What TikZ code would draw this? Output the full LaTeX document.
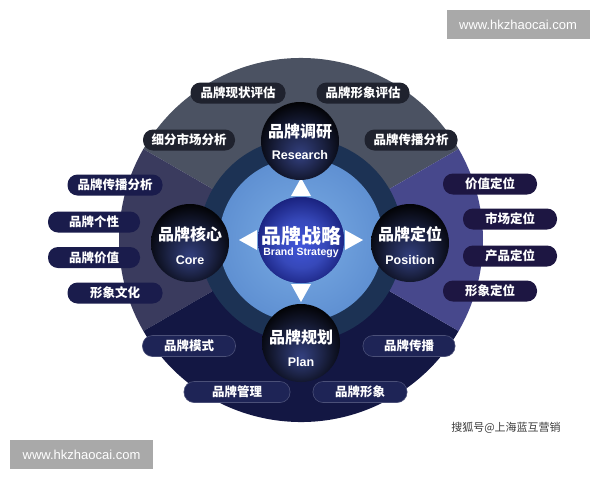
\documentclass[tikz,border=0pt]{standalone}
\usepackage{fontspec}
\setmainfont{Liberation Sans}
\newfontfamily\cjk{Noto Sans CJK SC}
\usetikzlibrary{calc}

\definecolor{secgray}{HTML}{4B5262}
\definecolor{secleft}{HTML}{3A3B5E}
\definecolor{secright}{HTML}{47488C}
\definecolor{secbottom}{HTML}{131743}
\definecolor{ringdark}{HTML}{1C3254}
\definecolor{discin}{HTML}{7AACE4}
\definecolor{discout}{HTML}{5F90D2}
\definecolor{pilltop}{HTML}{1F222E}
\definecolor{pillleft}{HTML}{1A1C4C}
\definecolor{pillright}{HTML}{1D1642}
\definecolor{pillbottom}{HTML}{1E2456}
\definecolor{wmgray}{HTML}{A9A9A9}
\definecolor{satglow}{HTML}{33407F}
\definecolor{ballmid}{HTML}{4055DA}
\definecolor{balledge}{HTML}{1B2482}
\definecolor{credit}{HTML}{3C3C3C}

\pgfdeclareradialshading{satball}{\pgfpoint{0bp}{-9bp}}{color(0bp)=(satglow); color(14bp)=(satglow!55!black); color(30bp)=(black); color(50bp)=(black)}
\pgfdeclareradialshading{coreball}{\pgfpoint{0bp}{-3bp}}{color(0bp)=(ballmid); color(14bp)=(ballmid!85!black); color(26bp)=(balledge); color(50bp)=(balledge)}

\tikzset{pill/.style={rounded corners=10pt, minimum height=21pt, inner sep=0pt, text=white, font=\cjk\bfseries\fontsize{12.5}{13}\selectfont}}
\tikzset{satnode/.style={circle, minimum size=78pt, inner sep=0pt, shading=satball}}
\tikzset{satcn/.style={text=white, font=\cjk\bfseries\fontsize{16}{16}\selectfont, inner sep=0pt}}
\tikzset{saten/.style={text=white, font=\bfseries\fontsize{12.5}{13}\selectfont, inner sep=0pt}}
\tikzset{wmbox/.style={fill=wmgray, minimum width=143pt, minimum height=29pt, inner sep=0pt, text=white, font=\fontsize{13}{13}\selectfont}}

\begin{document}
\begin{tikzpicture}[x=1pt,y=1pt]
      \useasboundingbox[fill=white] (0,0) rectangle (600,-480);
      \pgfmathsetmacro{\outr}{182}
      \pgfmathsetmacro{\ringr}{102}
      \pgfmathsetmacro{\discr}{82}
      \coordinate (ctr) at (301,-240);

      % outer ring, four sectors
      \fill[secgray] (ctr) -- ++(30:\outr pt) arc[start angle=30,end angle=150,radius=\outr pt] -- cycle;
      \fill[secleft] (ctr) -- ++(150:\outr pt) arc[start angle=150,end angle=210,radius=\outr pt] -- cycle;
      \fill[secbottom] (ctr) -- ++(210:\outr pt) arc[start angle=210,end angle=330,radius=\outr pt] -- cycle;
      \fill[secright] (ctr) -- ++(-30:\outr pt) arc[start angle=-30,end angle=30,radius=\outr pt] -- cycle;

      % inner ring and light disc
      \fill[ringdark] (ctr) circle[radius=\ringr pt];
      \shade[inner color=discin, outer color=discout] (ctr) circle[radius=\discr pt];

      \node[circle, minimum size=86pt, inner sep=0pt, shading=coreball] (strategy) at (301,-240) {};

      % white arrows
      \foreach \ang in {0,90,180,270}
      {
        \begin{scope}[shift={(strategy.center)}, rotate=\ang]
          \fill[white] (44,-10) -- (62,0) -- (44,10) -- cycle;
        \end{scope}
      }

      \node[circle, minimum size=86pt, inner sep=0pt, shading=coreball] at (strategy.center) {};
      \node[text=white, font=\cjk\bfseries\fontsize{20}{20}\selectfont, inner sep=0pt] (strategycn) at ([yshift=4pt]strategy.center) {品牌战略};
      \node[text=white, font=\bfseries\fontsize{10.5}{11}\selectfont, inner sep=0pt] (strategyen) at ([yshift=-13pt]strategy.center) {Brand Strategy};

      % satellite spheres
      \node[satnode] (research) at (300,-141) {};
      \node[satnode] (core) at (190,-243) {};
      \node[satnode] (position) at (410,-243) {};
      \node[satnode] (plan) at (301,-343) {};

      \node[satcn] (researchcn) at ([yshift=10pt]research.center) {品牌调研};
      \node[saten] (researchen) at ([yshift=-14pt]research.center) {Research};
      \node[satcn] (corecn) at ([yshift=9pt]core.center) {品牌核心};
      \node[saten] (coreen) at ([yshift=-17pt]core.center) {Core};
      \node[satcn] (positioncn) at ([yshift=9pt]position.center) {品牌定位};
      \node[saten] (positionen) at ([yshift=-17pt]position.center) {Position};
      \node[satcn] (plancn) at ([yshift=6pt]plan.center) {品牌规划};
      \node[saten] (planen) at ([yshift=-19pt]plan.center) {Plan};

      % pills, top
      \node[pill, fill=pilltop, minimum width=95pt] (evalnow) at (238,-93) {品牌现状评估};
      \node[pill, fill=pilltop, minimum width=93pt] (evalimage) at (363,-93) {品牌形象评估};
      \node[pill, fill=pilltop, minimum width=92pt] (segment) at (189,-140) {细分市场分析};
      \node[pill, fill=pilltop, minimum width=93pt] (spreadtop) at (411,-140) {品牌传播分析};

      % pills, left
      \node[pill, fill=pillleft, minimum width=95pt] (spreadleft) at (115,-185) {品牌传播分析};
      \node[pill, fill=pillleft, minimum width=92pt] (personality) at (94,-222) {品牌个性};
      \node[pill, fill=pillleft, minimum width=92pt] (value) at (94,-257.5) {品牌价值};
      \node[pill, fill=pillleft, minimum width=95pt] (culture) at (115,-293) {形象文化};

      % pills, right
      \node[pill, fill=pillright, minimum width=94pt] (valuepos) at (490,-184) {价值定位};
      \node[pill, fill=pillright, minimum width=94pt] (marketpos) at (510,-219) {市场定位};
      \node[pill, fill=pillright, minimum width=94pt] (productpos) at (510,-256) {产品定位};
      \node[pill, fill=pillright, minimum width=94pt] (imagepos) at (490,-291) {形象定位};

      % pills, bottom
      \node[pill, fill=pillbottom, draw=pillbottom!80!white, line width=0.6pt, minimum width=93pt] (mode) at (189,-346) {品牌模式};
      \node[pill, fill=pillbottom, draw=pillbottom!80!white, line width=0.6pt, minimum width=92pt] (spreadbottom) at (409,-346) {品牌传播};
      \node[pill, fill=pillbottom, draw=pillbottom!80!white, line width=0.6pt, minimum width=106pt] (manage) at (237,-392) {品牌管理};
      \node[pill, fill=pillbottom, draw=pillbottom!80!white, line width=0.6pt, minimum width=94pt] (image) at (360,-392) {品牌形象};

      % watermarks and credit
      \node[wmbox] (wmtop) at (518,-24.5) {www.hkzhaocai.com};
      \node[wmbox] (wmbottom) at (81.5,-454.5) {www.hkzhaocai.com};
      \node[text=credit, font=\cjk\fontsize{11}{11}\selectfont, inner sep=0pt] (source) at (506,-428) {搜狐号@上海蓝互营销};
\end{tikzpicture}
\end{document}
